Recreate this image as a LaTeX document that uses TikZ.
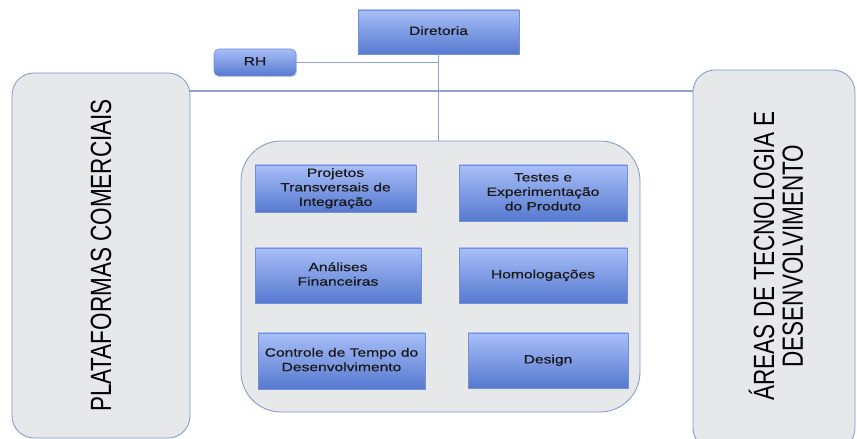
\documentclass[tikz,border=0pt]{standalone}
\usepackage{fontspec}
\usepackage{graphicx}
\setmainfont{Liberation Sans}
\newfontfamily\boxfont[FakeBold=0.6]{Liberation Sans}
\usetikzlibrary{shadows}
\definecolor{boxtop}{HTML}{A8BEF8}
\definecolor{boxbot}{HTML}{5679CF}
\definecolor{boxline}{HTML}{7390D6}
\definecolor{grayfill}{HTML}{E7E8E9}
\definecolor{grayline}{HTML}{7E96C8}
\definecolor{conn}{HTML}{8EA2CA}
\newcommand\hx[1]{\scalebox{1.3}[1]{\begin{tabular}{@{}c@{}}#1\end{tabular}}}
\tikzset{
  bluebox/.style={draw=boxline, line width=0.6pt, top color=boxtop, bottom color=boxbot,
    inner sep=0pt, font=\boxfont\fontsize{12}{14.5}\selectfont, text=black!90,
    drop shadow={opacity=0.25, shadow xshift=1.2pt, shadow yshift=-1.2pt}},
  graybox/.style={draw=grayline, line width=0.8pt, fill=grayfill},
  connector/.style={draw=conn, line width=1.2pt}
}
\begin{document}
\begin{tikzpicture}[x=1pt,y=1pt]
\useasboundingbox (0,0) rectangle (857,439);
\clip (0,0) rectangle (857,439);
% large gray boxes
\node[graybox, rounded corners=22pt, minimum width=178pt, minimum height=365pt, inner sep=0pt] (plat) at (101,183.5) {};
\node[graybox, rounded corners=22pt, minimum width=162pt, minimum height=380pt, inner sep=0pt] (areas) at (774,179) {};
\node[graybox, rounded corners=40pt, minimum width=399pt, minimum height=271pt, inner sep=0pt] (centro) at (440.5,162.5) {};
% top boxes
\node[bluebox, minimum width=161pt, minimum height=44pt] (dir) at (438.5,407) {\hx{Diretoria}};
\node[bluebox, rounded corners=5pt, minimum width=82pt, minimum height=27pt] (rh) at (255,376.5) {\hx{RH}};
% connectors
\coordinate (j1) at (dir.south |- rh.east);
\coordinate (j2) at (dir.south |- 0,348);
\draw[connector] (rh.east) -- (j1);
\draw[connector] (dir.south) -- (dir.south |- centro.north);
\draw[connector] (plat.east |- j2) -- (areas.west |- j2);
% inner boxes
\node[bluebox, minimum width=161pt, minimum height=47pt] (proj) at (335.5,250.5) {\hx{Projetos\\Transversais de\\Integração}};
\node[bluebox, minimum width=168pt, minimum height=56pt] (test) at (543,246) {\hx{Testes e\\Experimentação\\do Produto}};
\node[bluebox, minimum width=166pt, minimum height=55pt] (anal) at (338,163.5) {\hx{Análises\\Financeiras}};
\node[bluebox, minimum width=168pt, minimum height=55pt] (homo) at (543,163.5) {\hx{Homologações}};
\node[bluebox, minimum width=167pt, minimum height=56pt] (ctrl) at (341.5,78) {\hx{Controle de Tempo do\\Desenvolvimento}};
\node[bluebox, minimum width=160pt, minimum height=55pt] (design) at (548,78.5) {\hx{Design}};
% rotated labels
\node[rotate=90, inner sep=0pt, font=\fontsize{22.5}{24}\selectfont] (platl) at (plat.center) {\scalebox{1}[1.3]{PLATAFORMAS COMERCIAIS}};
\node[rotate=90, inner sep=0pt, font=\fontsize{22.5}{21.5}\selectfont] (areasl) at (780,183) {\scalebox{1}[1.3]{\begin{tabular}{@{}c@{}}ÁREAS DE TECNOLOGIA E\\DESENVOLVIMENTO\end{tabular}}};
\end{tikzpicture}
\end{document}
